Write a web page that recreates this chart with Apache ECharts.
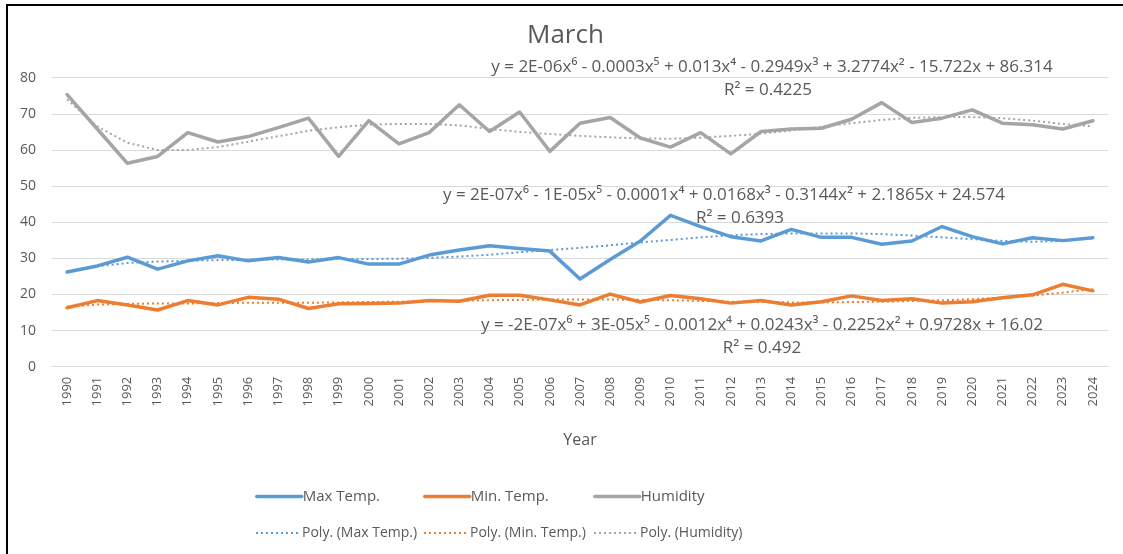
<!DOCTYPE html>
<html>
<head>
<meta charset="utf-8">
<script src="https://cdn.jsdelivr.net/npm/echarts@6/dist/echarts.min.js"></script>
<style>
  html, body { margin: 0; padding: 0; background: #fff; }
  #chart { width: 1123px; height: 554px; }
</style>
</head>
<body>
<div id="chart"></div>
<script>
const years = ['1990','1991','1992','1993','1994','1995','1996','1997','1998','1999','2000','2001','2002','2003','2004','2005','2006','2007','2008','2009','2010','2011','2012','2013','2014','2015','2016','2017','2018','2019','2020','2021','2022','2023','2024']

const maxTemp = [26.2, 27.9, 30.3, 27.0, 29.3, 30.7, 29.3, 30.2, 29.0, 30.2, 28.4, 28.4, 30.9, 32.3, 33.5, 32.7, 32.0, 24.3, 29.7, 34.8, 41.9, 38.8, 36.0, 34.8, 38.0, 35.8, 35.8, 33.9, 34.8, 38.8, 36.0, 34.0, 35.7, 34.9, 35.7]
const minTemp = [16.3, 18.3, 17.1, 15.7, 18.3, 17.1, 19.2, 18.7, 16.1, 17.4, 17.5, 17.6, 18.3, 18.1, 19.8, 19.8, 18.5, 17.1, 20.1, 17.9, 19.7, 18.8, 17.6, 18.3, 17.1, 18.0, 19.6, 18.3, 18.8, 17.6, 18.0, 19.1, 19.9, 22.8, 21.0]
const humidity = [75.3, 65.8, 56.3, 58.2, 64.8, 62.2, 63.7, 66.2, 68.8, 58.2, 68.1, 61.7, 64.8, 72.5, 65.1, 70.5, 59.6, 67.4, 69.0, 63.3, 60.8, 64.8, 58.9, 65.1, 65.8, 66.0, 68.5, 73.1, 67.6, 68.8, 71.1, 67.4, 67.0, 65.8, 68.1]

// dotted trend lines
const maxTrend = [26.5, 27.8, 28.7, 29.1, 29.3, 29.5, 29.6, 29.7, 29.7, 29.8, 29.8, 29.9, 30.1, 30.5, 31.0, 31.7, 32.3, 32.9, 33.6, 34.4, 35.1, 35.8, 36.4, 36.7, 36.9, 36.9, 36.9, 36.7, 36.3, 35.8, 35.3, 34.8, 34.6, 34.8, 35.6]
const minTrend = [16.6, 17.2, 17.4, 17.5, 17.5, 17.6, 17.7, 17.7, 17.7, 17.8, 17.9, 18.0, 18.1, 18.3, 18.4, 18.5, 18.6, 18.6, 18.6, 18.5, 18.4, 18.2, 18.0, 17.9, 17.8, 17.8, 17.9, 18.0, 18.2, 18.4, 18.7, 19.1, 19.7, 20.5, 21.5]
const humTrend = [74.0, 66.5, 62.0, 60.0, 60.0, 60.8, 62.3, 63.8, 65.3, 66.3, 67.0, 67.2, 67.2, 66.8, 65.8, 65.0, 64.4, 63.9, 63.5, 63.2, 63.1, 63.4, 63.9, 64.5, 65.4, 66.4, 67.4, 68.3, 68.9, 69.1, 69.1, 68.8, 68.1, 67.2, 66.5]

const yTicks = [0, 10, 20, 30, 40, 50, 60, 70, 80]

const equations = [
  { text: 'y = 2E-06x⁶ - 0.0003x⁵ + 0.013x⁴ - 0.2949x³ + 3.2774x² - 15.722x + 86.314', x: 772, y: 67 },
  { text: 'R² = 0.4225', x: 768, y: 90 },
  { text: 'y = 2E-07x⁶ - 1E-05x⁵ - 0.0001x⁴ + 0.0168x³ - 0.3144x² + 2.1865x + 24.574', x: 724, y: 195 },
  { text: 'R² = 0.6393', x: 740, y: 218 },
  { text: 'y = -2E-07x⁶ + 3E-05x⁵ - 0.0012x⁴ + 0.0243x³ - 0.2252x² + 0.9728x + 16.02', x: 762, y: 325 },
  { text: 'R² = 0.492', x: 762, y: 348 }
]

const BLUE = '#5b9bd5'
const ORANGE = '#ed7d31'
const GRAY = '#a5a5a5'
const TEXT = '#595959'
const FONT = 'Open Sans'

const chart = echarts.init(document.getElementById('chart'))

const solid = (name, data, color) => ({
  name, type: 'line', data, symbol: 'none', z: 3,
  lineStyle: { color, width: 3.5, cap: 'round', join: 'round' },
  itemStyle: { color }
})
const dotted = (name, data, color) => ({
  name, type: 'line', data, symbol: 'none', z: 4,
  lineStyle: { color, width: 2, type: [2, 3] },
  itemStyle: { color }
})

const legendAt = (name, left, top, size, lineWidth) => ({
  data: [name], left, top, itemWidth: 45, itemHeight: 10, itemGap: 0,
  itemStyle: { opacity: 0 },
  lineStyle: { width: lineWidth },
  textStyle: { color: TEXT, fontFamily: FONT, fontSize: size, padding: [0, 0, 0, -4] }
})

chart.setOption({
  animation: false,
  backgroundColor: '#fff',
  title: {
    text: 'March', left: 522, top: 18,
    textStyle: { color: TEXT, fontFamily: FONT, fontSize: 26, fontWeight: 'normal' }
  },
  legend: [
    legendAt('Max Temp.', 250, 484, 15, 3.5),
    legendAt('Min. Temp.', 418, 484, 15, 3.5),
    legendAt('Humidity', 588, 484, 15, 3.5),
    legendAt('Poly. (Max Temp.)', 250, 521, 14, 2),
    legendAt('Poly. (Min. Temp.)', 418, 521, 14, 2),
    legendAt('Poly. (Humidity)', 588, 521, 14, 2)
  ],
  grid: { left: 52, right: 15, top: 77.7, bottom: 187.3 },
  xAxis: {
    type: 'category', data: years, boundaryGap: true,
    name: 'Year', nameLocation: 'middle', nameGap: 66,
    nameTextStyle: { color: TEXT, fontFamily: FONT, fontSize: 16 },
    axisLine: { lineStyle: { color: '#d9d9d9' } },
    axisTick: { show: false },
    axisLabel: { rotate: 90, color: TEXT, fontFamily: FONT, fontSize: 13, interval: 0, margin: 10 }
  },
  yAxis: {
    type: 'value', min: yTicks[0], max: yTicks[yTicks.length - 1], interval: 10,
    axisLine: { show: false }, axisTick: { show: false },
    axisLabel: { color: TEXT, fontFamily: FONT, fontSize: 14, margin: 16 },
    splitLine: { lineStyle: { color: '#d9d9d9', width: 1 } }
  },
  series: [
    solid('Max Temp.', maxTemp, BLUE),
    solid('Min. Temp.', minTemp, ORANGE),
    solid('Humidity', humidity, GRAY),
    dotted('Poly. (Max Temp.)', maxTrend, BLUE),
    dotted('Poly. (Min. Temp.)', minTrend, ORANGE),
    dotted('Poly. (Humidity)', humTrend, GRAY)
  ],
  graphic: [
    { type: 'line', shape: { x1: 6, y1: 5, x2: 1123, y2: 5 }, style: { stroke: '#000', lineWidth: 2 } },
    { type: 'line', shape: { x1: 7, y1: 5, x2: 7, y2: 554 }, style: { stroke: '#000', lineWidth: 2 } },
    ...equations.map((e) => ({
      type: 'text', x: e.x, y: e.y, z: 10,
      style: { text: e.text, fill: TEXT, font: `17px "${FONT}"`, textAlign: 'center', textVerticalAlign: 'middle' }
    }))
  ]
})

window.addEventListener('resize', () => chart.resize())
</script>
</body>
</html>
